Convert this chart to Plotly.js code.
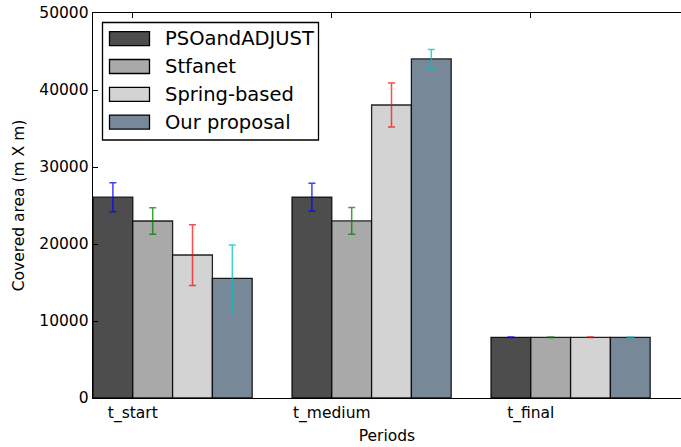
<!DOCTYPE html>
<html>
<head>
<meta charset="utf-8">
<script src="https://cdn.plot.ly/plotly-3.0.1.min.js"></script>
<style>
  html, body { margin: 0; padding: 0; background: #ffffff; overflow: hidden; }
  #chart { width: 681px; height: 447px; }
</style>
</head>
<body>
<div id="chart"></div>
<script>
// Periods on the x axis and the four methods compared
const periods = ['t_start', 't_medium', 't_final'];
const seriesNames = ['PSOandADJUST', 'Stfanet', 'Spring-based', 'Our proposal'];

// Covered area (m x m) and its spread, per period
const psoAdjust      = [26080, 26100, 7880];
const psoAdjustErr   = [1880, 1800, 30];
const stfanet        = [22990, 23000, 7880];
const stfanetErr     = [1725, 1730, 30];
const springBased    = [18570, 38050, 7880];
const springBasedErr = [3945, 2870, 30];
const ourProposal    = [15540, 44030, 7880];
const ourProposalErr = [4330, 1240, 30];

const yTickVals = [0, 10000, 20000, 30000, 40000, 50000];

const values = [psoAdjust, stfanet, springBased, ourProposal];
const errors = [psoAdjustErr, stfanetErr, springBasedErr, ourProposalErr];
const fillColors = ['#4d4d4d', '#a9a9a9', '#d3d3d3', '#778899'];
const errColors = ['rgba(0,0,255,0.75)', 'rgba(0,128,0,0.75)', 'rgba(255,0,0,0.7)', 'rgba(0,191,191,0.75)'];

const barWidth = 0.2;
const groupIdx = periods.map((_, k) => k);

const traces = seriesNames.map((name, i) => ({
  type: 'bar',
  name: name,
  x: groupIdx.map(k => k + i * barWidth + barWidth / 2),
  y: values[i],
  width: barWidth,
  marker: { color: fillColors[i], line: { color: 'rgba(0,0,0,0.85)', width: 1.3 } },
  error_y: { type: 'data', array: errors[i], visible: true, color: errColors[i], thickness: 1.5, width: 3.5 },
  showlegend: false,
  hoverinfo: 'skip'
}));

// Plot area geometry (pixels)
const W = 681, H = 447;
const mL = 93, mR = 0, mT = 13, mB = 49;
const plotW = W - mL - mR, plotH = H - mT - mB;
const px2x = px => (px - mL) / plotW;
const px2y = py => (H - mB - py) / plotH;

// Hand-built legend: framed box, wide swatches, labels
const shapes = [{
  type: 'rect', xref: 'paper', yref: 'paper', layer: 'above',
  x0: px2x(102.5), x1: px2x(318.5), y0: px2y(140), y1: px2y(22.5),
  line: { color: '#000000', width: 1.3 }, fillcolor: '#ffffff'
}];
const annotations = [];
seriesNames.forEach((name, i) => {
  const cy = 38.7 + i * 27.8;
  shapes.push({
    type: 'rect', xref: 'paper', yref: 'paper', layer: 'above',
    x0: px2x(109.5), x1: px2x(149.5), y0: px2y(cy + 7), y1: px2y(cy - 7),
    line: { color: '#000000', width: 1.3 }, fillcolor: fillColors[i]
  });
  annotations.push({
    xref: 'paper', yref: 'paper', x: px2x(163), y: px2y(cy),
    xanchor: 'left', yanchor: 'middle', showarrow: false,
    text: name, font: { family: 'DejaVu Sans', size: 19.5, color: '#000000' }
  });
});

const layout = {
  width: W, height: H,
  margin: { l: mL, r: mR, t: mT, b: mB, pad: 0 },
  paper_bgcolor: '#ffffff', plot_bgcolor: '#ffffff',
  font: { family: 'DejaVu Sans', size: 15.5, color: '#000000' },
  barmode: 'overlay',
  xaxis: {
    range: [0, plotW / 199],
    tickmode: 'array',
    tickvals: groupIdx.map(k => k + barWidth),
    ticktext: periods,
    ticks: 'inside', ticklen: 5, tickwidth: 1, tickcolor: '#000000',
    showline: true, linecolor: '#000000', linewidth: 1.3, mirror: 'ticks',
    showgrid: false, zeroline: false,
    title: { text: 'Periods', font: { size: 15.5 }, standoff: 8 }
  },
  yaxis: {
    range: [0, 50000],
    tickmode: 'array', tickvals: yTickVals, ticktext: yTickVals.map(String),
    ticks: 'inside', ticklen: 5, tickwidth: 1, tickcolor: '#000000',
    showline: true, linecolor: '#000000', linewidth: 1.3, mirror: false,
    showgrid: false, zeroline: false,
    title: { text: 'Covered area (m X m)', font: { size: 15.5 }, standoff: 11 }
  },
  shapes: shapes,
  annotations: annotations
};

Plotly.newPlot('chart', traces, layout, { displayModeBar: false, staticPlot: true });
</script>
</body>
</html>
